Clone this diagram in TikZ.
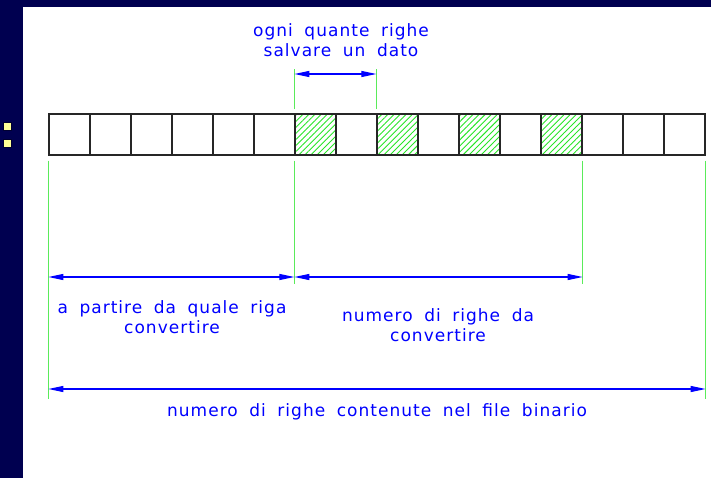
\documentclass[tikz,border=0pt]{standalone}
\usepackage{fontspec}
\setmainfont{Liberation Sans}
\newfontfamily\cadfont[LetterSpace=6,WordSpace=1.8]{DejaVu Sans}
\usetikzlibrary{arrows.meta,patterns.meta}

\definecolor{navy}{RGB}{0,0,80}
\definecolor{dimblue}{RGB}{0,0,255}
\definecolor{extgreen}{RGB}{90,235,90}
\definecolor{hatchgreen}{RGB}{40,230,40}
\definecolor{bullet}{RGB}{255,255,150}

\begin{document}
\begin{tikzpicture}[
  x=1pt,y=-1pt,
  line cap=butt,
  cell/.style={draw=black!85,line width=1.3pt,minimum width=41pt,minimum height=41pt,inner sep=0pt},
  hatched/.style={pattern={Lines[angle=45,distance=4.3pt,line width=0.9pt]},pattern color=hatchgreen},
  ext/.style={draw=extgreen,line width=1.4pt},
  dim/.style={draw=dimblue,line width=1.1pt,{Triangle[length=15pt,width=6pt]}-{Triangle[length=15pt,width=6pt]}},
  lbl/.style={text=dimblue,align=center,font=\cadfont\fontsize{17}{20.5}\selectfont,inner sep=0pt}
]
  % Slide background and the two bullets.
  \fill[navy] (0,0) rectangle (711,478);
  \fill[white] (23,7) rectangle (711,478);
  \useasboundingbox (0,0) rectangle (711,478);
  \foreach \y in {126,143}
    \draw[fill=bullet,draw=navy!60!black,line width=0.4pt] (3,\y-4) rectangle (11,\y+4);

  % Row of records, every second one from the 7th to the 13th hatched.
  \foreach \i in {1,...,16}
    \node[cell] (c\i) at ({49+41*(\i-0.5)},134.5) {};
  \foreach \i in {7,9,11,13}
    \node[cell,hatched] at (c\i) {};

  % Levels of the dimension lines.
  \coordinate (lvlT) at (0,74);
  \coordinate (lvlA) at (0,277);
  \coordinate (lvlB) at (0,389);

  % Extension lines.
  \draw[ext] (c7.north west) ++(0,-4) -- ++(0,-40);
  \draw[ext] (c9.north west) ++(0,-4) -- ++(0,-40);
  \draw[ext] (c1.south west) ++(0,5) -- ++(0,238);
  \draw[ext] (c7.south west) ++(0,5) -- ++(0,123);
  \draw[ext] (c13.south east) ++(0,5) -- ++(0,123);
  \draw[ext] (c16.south east) ++(0,5) -- ++(0,238);

  % Dimension lines.
  \draw[dim] (c7.north west |- lvlT) -- (c9.north west |- lvlT);
  \draw[dim] (c1.south west |- lvlA) -- (c7.south west |- lvlA);
  \draw[dim] (c7.south west |- lvlA) -- (c13.south east |- lvlA);
  \draw[dim] (c1.south west |- lvlB) -- (c16.south east |- lvlB);

  % Labels.
  \node[lbl] (passo) at (341,40) {ogni quante righe\\salvare un dato};
  \node[lbl] (inizio) at (172,317) {a partire da quale riga\\convertire};
  \node[lbl] (quante) at (438,325) {numero di righe da\\convertire};
  \node[lbl] (totale) at (377,412) {numero di righe contenute nel file binario};
\end{tikzpicture}
\end{document}
